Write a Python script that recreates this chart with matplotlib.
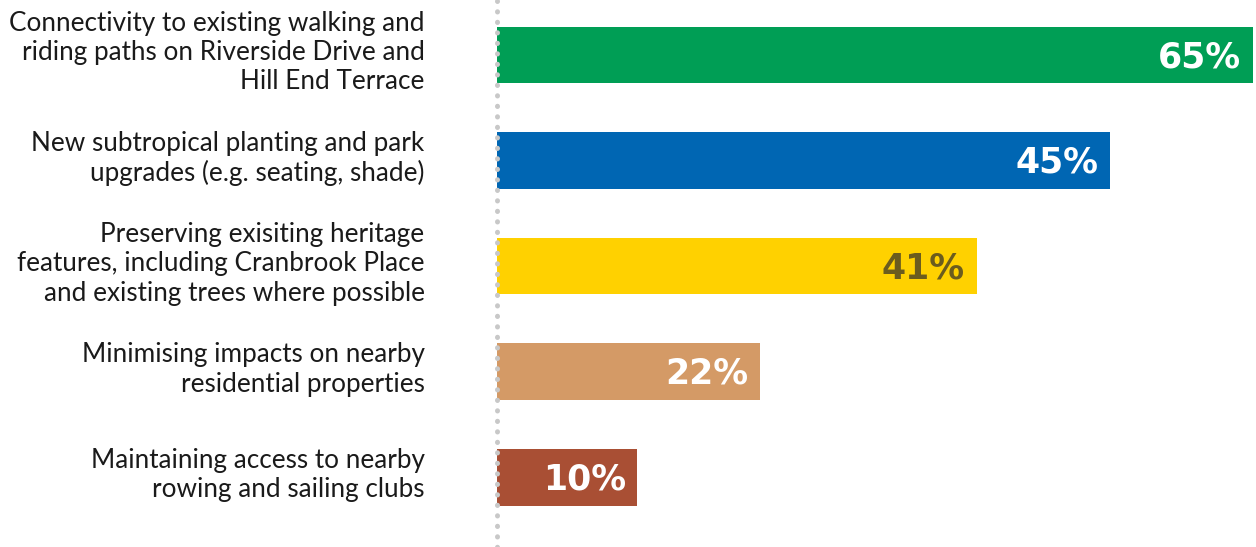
import matplotlib.pyplot as plt

# Categories (top to bottom), bar lengths, printed labels
categories = [
    'Connectivity to existing walking and\nriding paths on Riverside Drive and\nHill End Terrace',
    'New subtropical planting and park\nupgrades (e.g. seating, shade)',
    'Preserving exisiting heritage\nfeatures, including Cranbrook Place\nand existing trees where possible',
    'Minimising impacts on nearby\nresidential properties',
    'Maintaining access to nearby\nrowing and sailing clubs',
]
bar_lengths = [65.7, 53.3, 41.7, 22.9, 12.2]
value_labels = ['65%', '45%', '41%', '22%', '10%']
bar_colors = ['#009E55', '#0066B3', '#FFD100', '#D49A66', '#A94F34']
label_colors = ['white', 'white', '#6B5C1E', 'white', 'white']

plt.rcParams['font.family'] = ['Lato', 'DejaVu Sans']

fig = plt.figure(figsize=(12.56, 5.47), dpi=100)
ax = fig.add_axes([497 / 1256, 0, 1 - 497 / 1256, 1])

y = list(range(len(categories)))
ax.barh(y, bar_lengths, height=0.535, color=bar_colors, zorder=2)

ax.set_xlim(0, 66)
ax.set_ylim(len(categories) - 0.5 + 0.16, -0.5 - 0.02)

# dotted baseline
ax.axvline(0, color='#C8C8C8', linewidth=3.6, linestyle=(0, (0.05, 2.05)),
           dash_capstyle='round', zorder=3, clip_on=False)

for yi, length, lab, col in zip(y, bar_lengths, value_labels, label_colors):
    ax.text(length - 1.0, yi + 0.02, lab, ha='right', va='center',
            fontsize=25, fontweight='bold', color=col, zorder=4,
            family='DejaVu Sans')

for yi, cat in zip(y, categories):
    ax.text(-6.3, yi - 0.02, cat, ha='right', va='center', fontsize=18.85,
            color='#1a1a1a', linespacing=1.21, clip_on=False)

ax.axis('off')

fig.savefig('out.png', dpi=100)
